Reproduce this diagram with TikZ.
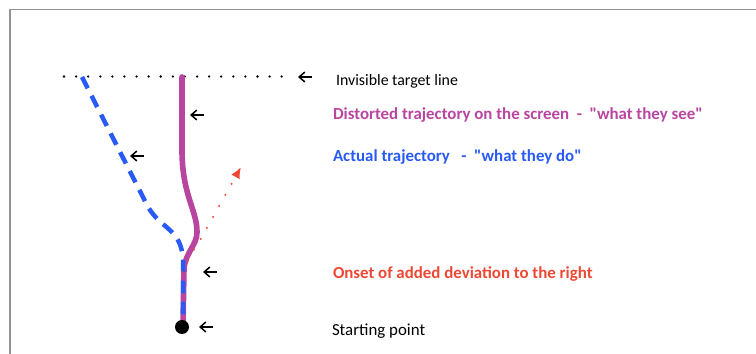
\documentclass[tikz,border=0pt]{standalone}
\usepackage{fontspec}
\setmainfont{Carlito}[Ligatures=TeXOff]
\usetikzlibrary{arrows.meta}
\definecolor{seecol}{RGB}{184,70,160}
\definecolor{docol}{RGB}{40,90,245}
\definecolor{onsetcol}{RGB}{238,72,52}
\begin{document}
\begin{tikzpicture}[x={(0.025cm,0cm)},y={(0cm,-0.025cm)},every node/.style={anchor=west, inner sep=0pt, outer sep=0pt, font=\fontsize{12}{14}\selectfont},
  pointer/.style={-{Straight Barb[length=4pt,width=7pt]}, line width=1.1pt, black}]
\useasboundingbox (0,0) rectangle (756,354);
\draw[color=gray!85,line width=1.2pt] (10,354) -- (10,9.5) -- (756,9.5);
% target line
\draw[line width=1.8pt,line cap=round,dash pattern=on 0pt off 8.6pt] (64,76.5) -- (290,76.5);
% what they see
\draw[color=seecol,line width=4pt,line cap=round] (182,77) -- (182,150) .. controls (182,195) and (197,210) .. (197,232) .. controls (197,245) and (186,252) .. (184,268) -- (183,326);
% what they do
\draw[color=docol,line width=3.2pt,dash pattern=on 9pt off 6pt] (82,77) -- (148,207) .. controls (162,230) and (180,228) .. (183,258) -- (183,326);
% added deviation
\draw[color=onsetcol,line width=1.6pt,line cap=round,dash pattern=on 0pt off 9pt,-{Latex[length=8pt,width=7pt]}] (182,272) .. controls (188,260) and (193,250) .. (199,242) -- (241,167);
\fill (182,327) circle (7);
% pointers
\draw[pointer] (312,77) -- (298,77);
\draw[pointer] (204,115) -- (190,115);
\draw[pointer] (144,156) -- (130,156);
\draw[pointer] (217,272) -- (203,272);
\draw[pointer] (213,327) -- (199,327);
% labels
\node (targetlbl) at (336,81) {\fontsize{11.3}{13}\selectfont Invisible target line};
\node[color=seecol] (seelbl) at (333,115) {\bfseries Distorted trajectory on the screen\ \ -\ \ "what they see"};
\node[color=docol] (dolbl) at (333,157) {\bfseries Actual trajectory\ \ \ -\ \ "what they do"};
\node[color=onsetcol] (onsetlbl) at (333,274) {\bfseries Onset of added deviation to the right};
\node (startlbl) at (332,331) {Starting point};
\end{tikzpicture}
\end{document}
